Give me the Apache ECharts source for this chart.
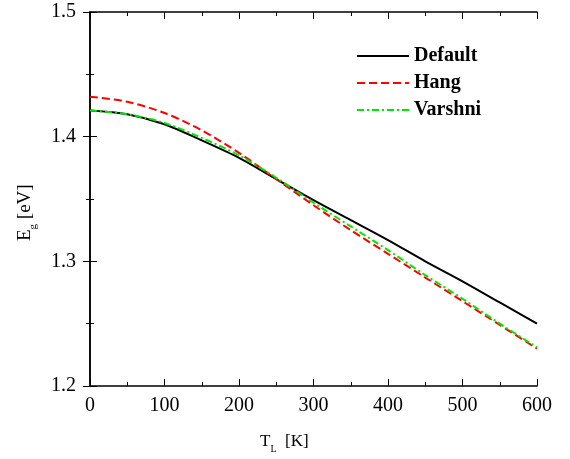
<!DOCTYPE html>
<html>
<head>
<meta charset="utf-8">
<script src="https://cdn.jsdelivr.net/npm/echarts@6/dist/echarts.min.js"></script>
<style>
  html, body { margin: 0; padding: 0; background: #fff; }
  #chart { width: 570px; height: 459px; }
</style>
</head>
<body>
<div id="chart"></div>
<script>
// lattice temperature (K)
const temps = [0, 50, 100, 150, 200, 250, 300, 350, 400, 450, 500, 550, 600]

// band gap (eV)
const egDefault = [1.421, 1.418, 1.410, 1.397, 1.383, 1.366, 1.349, 1.333, 1.317, 1.300, 1.284, 1.267, 1.250]
const egHang = [1.432, 1.428, 1.419, 1.405, 1.387, 1.366, 1.345, 1.325, 1.306, 1.287, 1.268, 1.249, 1.230]
const egVarshni = [1.421, 1.418, 1.411, 1.399, 1.385, 1.367, 1.347, 1.328, 1.309, 1.289, 1.270, 1.250, 1.231]

const seriesNames = ['Default', 'Hang', 'Varshni']

const FONT = '"Liberation Serif", "DejaVu Serif", serif'

function pairs(ys) {
  return temps.map((t, i) => [t, ys[i]])
}

const chart = echarts.init(document.getElementById('chart'))

const tickLabel = { color: '#000', fontFamily: FONT, fontSize: 20 }
const hiddenAxis = {
  axisLine: { show: true, lineStyle: { color: '#000', width: 1.5 } },
  axisTick: { show: true, inside: true, length: 7, lineStyle: { color: '#000' } },
  minorTick: { show: true, splitNumber: 2, length: 4, lineStyle: { color: '#000' } },
  axisLabel: { show: false },
  splitLine: { show: false }
}

chart.setOption({
  animation: false,
  backgroundColor: '#fff',
  grid: { left: 90, right: 33, top: 12, bottom: 73 },
  legend: {
    orient: 'vertical',
    left: 351,
    top: 41,
    itemWidth: 52,
    itemHeight: 14,
    itemGap: 7,
    data: seriesNames,
    itemStyle: { opacity: 0 },
    textStyle: {
      color: '#000',
      fontFamily: FONT,
      fontWeight: 'bold',
      fontSize: 20
    }
  },
  xAxis: [
    {
      type: 'value',
      min: 0,
      max: 600,
      interval: 100,
      axisLine: { show: true, lineStyle: { color: '#000', width: 1.5 } },
      axisTick: { show: true, inside: true, length: 7, lineStyle: { color: '#000' } },
      minorTick: { show: true, splitNumber: 2, length: 4, lineStyle: { color: '#000' } },
      axisLabel: { ...tickLabel, margin: 10 },
      splitLine: { show: false }
    },
    { type: 'value', position: 'top', min: 0, max: 600, interval: 100, ...hiddenAxis }
  ],
  yAxis: [
    {
      type: 'value',
      min: 1.2,
      max: 1.5,
      interval: 0.1,
      axisLine: { show: true, lineStyle: { color: '#000', width: 1.5 } },
      axisTick: { show: true, inside: true, length: 7, lineStyle: { color: '#000' } },
      minorTick: { show: true, splitNumber: 2, length: 4, lineStyle: { color: '#000' } },
      axisLabel: { ...tickLabel, margin: 14, formatter: (v) => v.toFixed(1) },
      splitLine: { show: false }
    },
    { type: 'value', position: 'right', min: 1.2, max: 1.5, interval: 0.1, ...hiddenAxis }
  ],
  graphic: [
    {
      type: 'text',
      left: 260,
      top: 433,
      style: {
        text: '{a|T}{s|L}{a|  [K]}',
        fill: '#000',
        rich: {
          a: { fontFamily: FONT, fontSize: 17, lineHeight: 22, verticalAlign: 'bottom' },
          s: { fontFamily: FONT, fontSize: 10, lineHeight: 22, verticalAlign: 'bottom', padding: [0, 0, -4, 0] }
        }
      }
    },
    {
      type: 'text',
      x: 13,
      y: 241,
      rotation: Math.PI / 2,
      style: {
        text: '{a|E}{s|g}{a| [eV]}',
        fill: '#000',
        rich: {
          a: { fontFamily: FONT, fontSize: 19, lineHeight: 22, verticalAlign: 'bottom' },
          s: { fontFamily: FONT, fontSize: 11, lineHeight: 22, verticalAlign: 'bottom', padding: [0, 0, -4, 0] }
        }
      }
    }
  ],
  series: [
    {
      name: 'Default',
      type: 'line',
      smooth: 0.3,
      symbol: 'none',
      data: pairs(egDefault),
      lineStyle: { color: '#000', width: 2 },
      itemStyle: { color: '#000' }
    },
    {
      name: 'Hang',
      type: 'line',
      smooth: 0.3,
      symbol: 'none',
      data: pairs(egHang),
      lineStyle: { color: '#ff0000', width: 2, type: [8, 4] },
      itemStyle: { color: '#ff0000' }
    },
    {
      name: 'Varshni',
      type: 'line',
      smooth: 0.3,
      symbol: 'none',
      data: pairs(egVarshni),
      lineStyle: { color: '#00e600', width: 2, type: [7, 3, 2, 3] },
      itemStyle: { color: '#00e600' }
    }
  ]
})
</script>
</body>
</html>
